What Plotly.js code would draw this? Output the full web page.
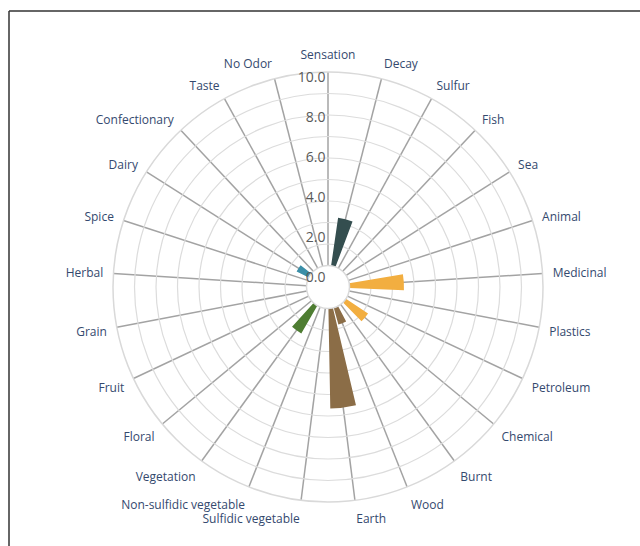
<!DOCTYPE html>
<html>
<head>
<meta charset="utf-8">
<script src="https://cdn.plot.ly/plotly-3.0.1.min.js"></script>
<style>html,body{margin:0;padding:0;background:#fff;}#chart{width:640px;height:546px;}</style>
</head>
<body>
<div id="chart"></div>
<script>
// ---- data ----
const categories = ["Sensation","Decay","Sulfur","Fish","Sea","Animal","Medicinal","Plastics","Petroleum","Chemical","Burnt","Wood","Earth","Sulfidic vegetable","Non-sulfidic vegetable","Vegetation","Floral","Fruit","Grain","Herbal","Spice","Dairy","Confectionary","Taste","No Odor"];
const values = [0, 3.0, 0, 0, 0, 0, 3.3, 0, 0, 1.9, 0, 1.45, 5.57, 0, 0, 2.18, 0, 0, 0, 0, 0, 1.25, 0, 0, 0];
const radialTickVals = [0, 2, 4, 6, 8, 10];
const radialTickText = ["0.0", "2.0", "4.0", "6.0", "8.0", "10.0"];

// ---- styles ----
const colorMap = {
  "Decay": "#344e4f",
  "Medicinal": "#f2ae40",
  "Chemical": "#f2ae40",
  "Wood": "#8b6d47",
  "Earth": "#8b6d47",
  "Vegetation": "#4e7d32",
  "Dairy": "#3b8fa8"
};
const barColors = categories.map(c => colorMap[c] || "#888888");

const R = 215;              // outer radius in px
const cx = 328, cy = 287;   // centre in px
const W = 640, H = 546;
const pxPerUnit = 20, zeroPx = 10, ringPx = R / 10;
const rMax = (R - zeroPx) / pxPerUnit;
const rHole = (ringPx - zeroPx) / pxPerUnit;
const ringVals = [];
for (let k = 2; k <= 9; k++) ringVals.push((ringPx * k - zeroPx) / pxPerUnit);

const domain = {
  x: [(cx - R) / W, (cx + R) / W],
  y: [1 - (cy + R) / H, 1 - (cy - R) / H]
};

const traces = [
  {
    type: "barpolar",
    subplot: "polar",
    theta: categories,
    r: values,
    marker: { color: barColors, line: { width: 0 } },
    hoverinfo: "theta+r"
  },
  {
    type: "scatterpolar",
    subplot: "polar2",
    r: [0], theta: [0],
    mode: "markers",
    marker: { opacity: 0 },
    hoverinfo: "skip",
    showlegend: false
  }
];

const layout = {
  width: W, height: H,
  margin: { l: 0, r: 0, t: 0, b: 0 },
  paper_bgcolor: "#ffffff",
  showlegend: false,
  font: { family: "Open Sans, sans-serif" },
  polar: {
    domain: domain,
    hole: ringPx / R,
    bargap: 0.15,
    bgcolor: "rgba(0,0,0,0)",
    angularaxis: {
      type: "category",
      categoryorder: "array",
      categoryarray: categories,
      rotation: 90,
      direction: "clockwise",
      showgrid: true,
      gridcolor: "#a3a3a3",
      gridwidth: 1.5,
      showline: true,
      linecolor: "#d9d9d9",
      linewidth: 1.5,
      ticks: "outside",
      ticklen: 7,
      tickcolor: "rgba(0,0,0,0)",
      tickfont: { family: "Open Sans, sans-serif", size: 12, color: "#34496e" }
    },
    radialaxis: {
      range: [rHole, rMax],
      tickmode: "array",
      tickvals: ringVals,
      showticklabels: false,
      ticks: "",
      showgrid: true,
      gridcolor: "#dcdcdc",
      gridwidth: 1.2,
      showline: false
    }
  },
  polar2: {
    domain: domain,
    hole: 0,
    bgcolor: "rgba(0,0,0,0)",
    angularaxis: { visible: false, showgrid: false, showline: false, rotation: 90, direction: "clockwise" },
    radialaxis: {
      range: [-zeroPx / pxPerUnit, rMax],
      angle: 90,
      side: "counterclockwise",
      tickangle: 90,
      tickmode: "array",
      tickvals: radialTickVals,
      ticktext: radialTickText,
      ticks: "",
      showgrid: false,
      showline: false,
      tickfont: { family: "Open Sans, sans-serif", size: 14, color: "#595959" }
    }
  },
  shapes: [
    { type: "line", xref: "paper", yref: "paper", x0: 9 / W, x1: 9 / W, y0: -0.01, y1: 1 - 11 / H, line: { color: "#333333", width: 1.5 } },
    { type: "line", xref: "paper", yref: "paper", x0: 9 / W, x1: 1.01, y0: 1 - 11 / H, y1: 1 - 11 / H, line: { color: "#333333", width: 1.5 } }
  ]
};

Plotly.newPlot("chart", traces, layout, { displayModeBar: false, staticPlot: true });
</script>
</body>
</html>
